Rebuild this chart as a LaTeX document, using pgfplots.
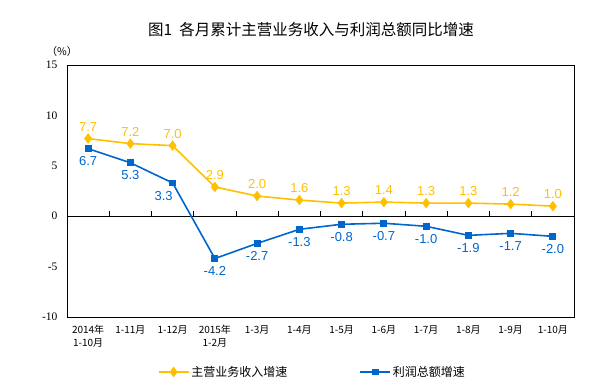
\documentclass[border=0pt]{standalone}
\usepackage{pgfplots}
\pgfplotsset{compat=1.18}
\usepackage{pgfplotstable}
\usepackage{fontspec}
\setmainfont{Liberation Sans}
\newfontfamily\cjk{Noto Sans CJK SC}
\newfontfamily\serif{Liberation Serif}
\definecolor{gold}{HTML}{FFC000}
\definecolor{blu}{HTML}{0066CC}

\pgfplotstableread{
x y
0 7.7
1 7.2
2 7.0
3 2.9
4 2.0
5 1.6
6 1.3
7 1.4
8 1.3
9 1.3
10 1.2
11 1.0
}\revenue

\pgfplotstableread{
x y dx
0 6.7 0
1 5.3 0
2 3.3 -9
3 -4.2 0
4 -2.7 0
5 -1.3 0
6 -0.8 0
7 -0.7 0
8 -1.0 0
9 -1.9 0
10 -1.7 0
11 -2.0 0
}\profit

\begin{document}
\begin{tikzpicture}[x=1pt,y=1pt]
\useasboundingbox (0,0) rectangle (614,391);
\node[font=\cjk\fontsize{15.5}{18}\selectfont] at (311,361) {图1\ \ 各月累计主营业务收入与利润总额同比增速};
\node[font=\cjk\fontsize{10.5}{12}\selectfont] at (62,339) {（\%）};
\begin{axis}[
  at={(67pt,74pt)}, anchor=south west,
  scale only axis, width=507pt, height=252pt,
  xmin=-0.5, xmax=11.5, ymin=-10, ymax=15,
  axis line style={line width=0.9pt, black},
  clip=false,
  ytick={-10,-5,0,5,10,15},
  yticklabel style={font=\serif\fontsize{11.5}{13}\selectfont, xshift=-6pt},
  /pgf/number format/assume math mode=true,
  major tick length=0pt,
  xtick={0,...,11},
  xticklabels={{2014年\\1-10月},1-11月,1-12月,{2015年\\1-2月},1-3月,1-4月,1-5月,1-6月,1-7月,1-8月,1-9月,1-10月},
  xticklabel style={font=\cjk\fontsize{10}{13}\selectfont, align=center, yshift=-5pt, anchor=north},
  legend style={at={(0.484,-0.218)}, anchor=center, draw=none, fill=none,
    legend columns=2, font=\cjk\fontsize{12}{14}\selectfont,
    /tikz/every even column/.append style={column sep=70pt},
    legend cell align=left},
  legend image code/.code={\draw[mark repeat=2,mark phase=2,#1] plot coordinates {(0pt,0pt) (15pt,0pt) (30pt,0pt)};},
  nodes near coords={\pgfmathprintnumber[fixed,fixed zerofill,precision=1,assume math mode=true]{\pgfplotspointmeta}},
]
\draw[line width=0.9pt, black] (axis cs:-0.5,0) -- (axis cs:11.5,0);
\pgfplotsinvokeforeach{0.5,1.5,...,10.5}{
  \draw[line width=0.7pt, black] (axis cs:#1,0) -- ++(0pt,5pt);
}
\addplot[gold, line width=1.6pt, mark=diamond*, mark size=4pt,
  every node near coord/.append style={font=\fontsize{13}{15}\selectfont, text=gold, anchor=south, yshift=3pt}]
  table[x=x,y=y] {\revenue};
\addlegendentry{主营业务收入增速}
\addplot[blu, line width=1.6pt, mark=square*, mark size=2.6pt,
  visualization depends on={\thisrow{dx} \as \dx},
  every node near coord/.append style={font=\fontsize{13}{15}\selectfont, text=blu, anchor=north, yshift=-4pt, xshift=\dx pt}]
  table[x=x,y=y] {\profit};
\addlegendentry{利润总额增速}
\end{axis}
\end{tikzpicture}
\end{document}
